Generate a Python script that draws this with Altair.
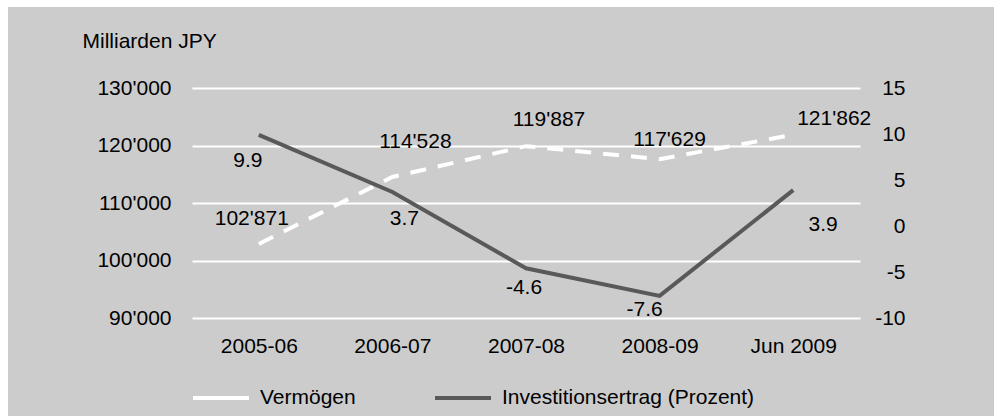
import json
import altair as alt
import pandas as pd

# ---- data ----
categories = ["2005-06", "2006-07", "2007-08", "2008-09", "Jun 2009"]
vermoegen = [102871, 114528, 119887, 117629, 121862]
ertrag = [9.9, 3.7, -4.6, -7.6, 3.9]
left_ticks = [90000, 100000, 110000, 120000, 130000]
right_ticks = [-10, -5, 0, 5, 10, 15]
series_names = ["Vermögen", "Investitionsertrag (Prozent)"]

# label offsets (pixels, label centre relative to point) - styling only
verm_dx = [-7, 23, 23, 10, 41]
verm_dy = [-25, -35, -26, -19, -16]
ertr_dx = [-11, 12, -2, -15, 30]
ertr_dy = [26, 27, 20, 14, 35]

W, H = 668, 230
PX_X = 5.0 / W                      # x units per pixel
PX_L = (130000 - 90000) / H         # left units per pixel
PX_R = (15 - (-10)) / H             # right units per pixel

FONT = "Liberation Sans"
FS = 21
DARK = "#595959"
BG = "#cccccc"
MINUS = "\u2212"

df_v = pd.DataFrame({"i": range(5), "cat": categories, "v": vermoegen,
                     "dx": verm_dx, "dy": verm_dy, "s": series_names[0]})
df_e = pd.DataFrame({"i": range(5), "cat": categories, "v": ertrag,
                     "dx": ertr_dx, "dy": ertr_dy, "s": series_names[1]})

cat_js = json.dumps(categories)
x_axis = alt.Axis(values=list(range(5)), labelExpr=f"{cat_js}[datum.value]",
                  grid=False, ticks=False, domain=False, title=None,
                  labelFont=FONT, labelFontSize=FS, labelColor="black",
                  labelBaseline="middle", labelPadding=28, labelFlush=False,
                  labelOverlap=False)
x_scale = alt.Scale(domain=[-0.5, 4.5], nice=False, zero=False)
color_scale = alt.Scale(domain=series_names, range=["white", DARK])
left_scale = alt.Scale(domain=[90000, 130000], nice=False, zero=False)
right_scale = alt.Scale(domain=[-10, 15], nice=False, zero=False)

line_v = alt.Chart(df_v).mark_line(strokeWidth=4, strokeDash=[16, 12]).encode(
    x=alt.X("i:Q", scale=x_scale, axis=x_axis),
    y=alt.Y("v:Q", scale=left_scale,
            axis=alt.Axis(orient="left", values=left_ticks, grid=True, gridColor="white",
                          gridWidth=2, gridOpacity=1, ticks=False, domain=False,
                          labelExpr="replace(format(datum.value, ',d'), ',', \"'\")",
                          labelFont=FONT, labelFontSize=FS, labelColor="black",
                          labelPadding=21, title="Milliarden JPY", titleAngle=0,
                          titleAlign="left", titleBaseline="middle", titleX=-110, titleY=-47,
                          titleFont=FONT, titleFontSize=FS, titleFontWeight="normal",
                          titleColor="black")),
    color=alt.Color("s:N", scale=color_scale,
                    legend=alt.Legend(orient="none", legendX=-1, legendY=280,
                                      direction="horizontal", title=None,
                                      symbolType="stroke", symbolSize=3136,
                                      symbolStrokeWidth=4, labelFont=FONT,
                                      labelFontSize=FS, labelColor="black",
                                      labelLimit=0, labelOffset=9, columnPadding=71)),
)
text_v = alt.Chart(df_v).transform_calculate(
    lx=f"datum.i + datum.dx * {PX_X}",
    ly=f"datum.v - datum.dy * {PX_L}",
    lab="replace(format(datum.v, ',d'), ',', \"'\")",
).mark_text(font=FONT, fontSize=FS, color="black", align="center", baseline="middle").encode(
    x=alt.X("lx:Q", scale=x_scale, axis=x_axis),
    y=alt.Y("ly:Q", scale=left_scale, axis=None),
    text="lab:N",
)

line_e = alt.Chart(df_e).mark_line(strokeWidth=4).encode(
    x=alt.X("i:Q", scale=x_scale, axis=x_axis),
    y=alt.Y("v:Q", scale=right_scale,
            axis=alt.Axis(orient="right", values=right_ticks, grid=False, ticks=False,
                          domain=False, labelFont=FONT, labelFontSize=FS,
                          labelExpr=f"replace(datum.label, '{MINUS}', '-')",
                          labelColor="black", labelAlign="right", labelPadding=45,
                          title=None)),
    color=alt.Color("s:N", scale=color_scale),
)
text_e = alt.Chart(df_e).transform_calculate(
    lx=f"datum.i + datum.dx * {PX_X}",
    ly=f"datum.v - datum.dy * {PX_R}",
    lab=f"replace(format(datum.v, '.1f'), '{MINUS}', '-')",
).mark_text(font=FONT, fontSize=FS, color="black", align="center", baseline="middle").encode(
    x=alt.X("lx:Q", scale=x_scale, axis=x_axis),
    y=alt.Y("ly:Q", scale=right_scale, axis=None),
    text="lab:N",
)

# white outer margin strips (chart background itself is grey)
one = pd.DataFrame({"a": [0]})
strip_left = alt.Chart(one).mark_rect(color="white").encode(
    x=alt.value(-192), x2=alt.value(-184), y=alt.value(-88), y2=alt.value(328))
strip_top = alt.Chart(one).mark_rect(color="white").encode(
    x=alt.value(-192), x2=alt.value(802), y=alt.value(-88), y2=alt.value(-81))

chart = alt.layer(
    line_v, line_e, text_v, text_e, strip_left, strip_top,
).resolve_scale(y="independent").properties(
    width=W, height=H,
    autosize=alt.AutoSizeParams(type="none"),
    padding={"left": 192, "top": 88, "right": 134, "bottom": 98},
    background=BG,
).configure_view(stroke=None)

chart.save("out.html", embed_options={"renderer": "svg", "actions": False})
